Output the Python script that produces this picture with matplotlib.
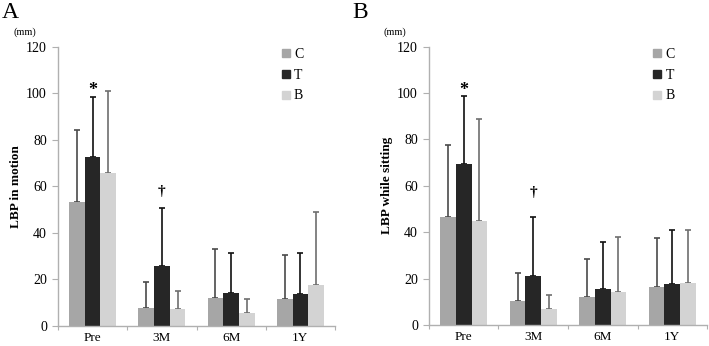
import matplotlib
matplotlib.use("Agg")
import matplotlib.pyplot as plt
import numpy as np
from matplotlib.lines import Line2D

plt.rcParams['font.family'] = ['Liberation Serif', 'DejaVu Serif']

categories = ["Pre", "3M", "6M", "1Y"]
series = ["C", "T", "B"]

# Panel A: LBP in motion
a_C = [53.3, 7.9, 12.2, 11.6]
a_T = [72.4, 25.6, 14.2, 13.9]
a_B = [65.8, 7.5, 5.8, 17.5]
a_C_err = [84.1, 18.9, 33.1, 30.6]
a_T_err = [98.3, 50.8, 31.2, 31.2]
a_B_err = [100.9, 15.2, 11.7, 49.1]

# Panel B: LBP while sitting
b_C = [46.7, 10.2, 11.9, 16.2]
b_T = [69.5, 21.3, 15.6, 17.8]
b_B = [44.7, 6.7, 14.3, 18.2]
b_C_err = [77.4, 22.3, 28.3, 37.6]
b_T_err = [98.6, 46.5, 35.6, 41.1]
b_B_err = [88.8, 12.8, 37.9, 41.1]

bar_colors = ["#a6a6a6", "#262626", "#d3d3d3"]
err_colors = ["#4a4a4a", "#111111", "#6e6e6e"]
axis_color = "#b0b0b0"

fig = plt.figure(figsize=(7.09, 3.46), dpi=100)
axA = fig.add_axes([58/709, 20/346, 277/709, 279.3/346])
axB = fig.add_axes([429/709, 21/346, 278/709, 278.3/346])


def draw(ax, means, tops, ylabel, marks):
    x = np.arange(len(categories))
    w = 0.226
    for i, (m, t) in enumerate(zip(means, tops)):
        xs = x + (i - 1) * w
        m = np.array(m)
        t = np.array(t)
        ax.bar(xs, m, width=w, color=bar_colors[i], zorder=2)
        ax.errorbar(xs, m, yerr=[np.zeros_like(m), t - m], fmt='none',
                    ecolor=err_colors[i], elinewidth=1.2, capsize=2.0,
                    capthick=1.2, zorder=1)
    ax.set_xlim(-0.5, len(categories) - 0.5)
    ax.set_ylim(0, 120)
    ax.set_yticks(np.arange(0, 121, 20))
    ax.set_xticks(np.arange(-0.5, len(categories) + 0.5, 1))
    ax.set_xticklabels([])
    ax.set_xticks(x, minor=True)
    ax.set_xticklabels(categories, minor=True, fontsize=9.5)
    ax.tick_params(axis='x', which='minor', length=0, pad=4)
    ax.tick_params(axis='x', which='major', length=3, color=axis_color, direction='out')
    ax.tick_params(axis='y', length=4, color=axis_color, labelsize=10, pad=4)
    for s in ['top', 'right']:
        ax.spines[s].set_visible(False)
    for s in ['left', 'bottom']:
        ax.spines[s].set_color(axis_color)
        ax.spines[s].set_linewidth(1.0)
    ax.set_ylabel(ylabel, fontsize=9.5, fontweight='bold', labelpad=3)
    for (xi, yi, txt, fs) in marks:
        ax.text(xi, yi, txt, ha='center', va='center', fontsize=fs,
                fontweight='bold')
    handles = [Line2D([], [], marker='s', linestyle='none', markersize=6,
                      markerfacecolor=c, markeredgecolor=c) for c in bar_colors]
    ax.legend(handles, series, loc='upper right', bbox_to_anchor=(0.885, 0.995),
              frameon=False, fontsize=10, handlelength=0.6, handletextpad=0.3,
              labelspacing=0.55, borderaxespad=0.0, borderpad=0.0)


draw(axA, [a_C, a_T, a_B], [a_C_err, a_T_err, a_B_err], "LBP in motion",
     [(0, 101, "*", 13), (1, 58, "†", 11)])
draw(axB, [b_C, b_T, b_B], [b_C_err, b_T_err, b_B_err], "LBP while sitting",
     [(0, 101, "*", 13), (1, 57, "†", 11)])

fig.text(2/709, 328/346, "A", fontsize=17, va='baseline', ha='left')
fig.text(352/709, 328/346, "B", fontsize=17, va='baseline', ha='left')
fig.text(14/709, 311/346, "(mm)", fontsize=7.5, va='baseline', ha='left')
fig.text(383/709, 311/346, "(mm)", fontsize=7.5, va='baseline', ha='left')

fig.savefig("out.png", dpi=100)
